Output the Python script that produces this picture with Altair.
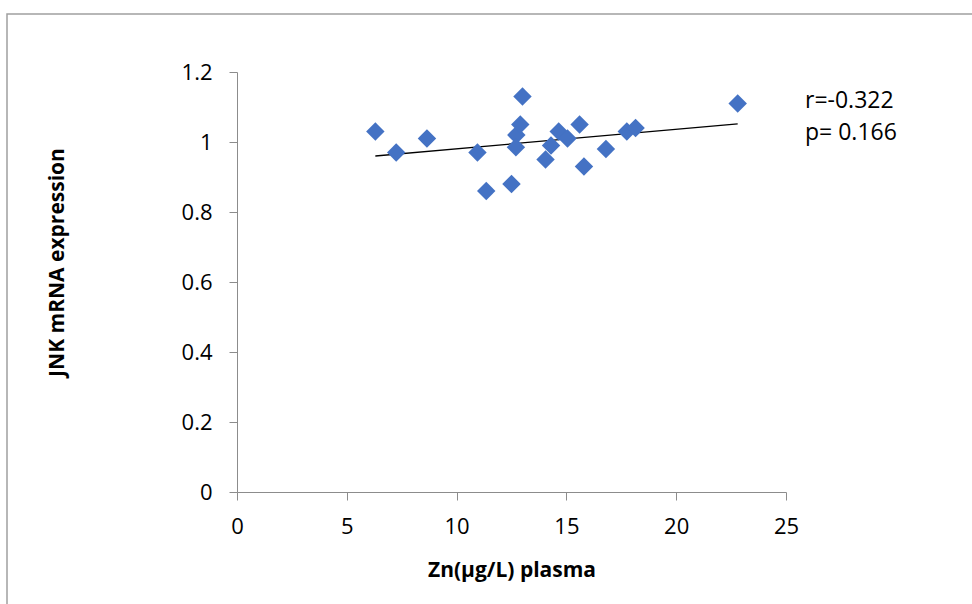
import altair as alt
import pandas as pd

zn = [6.3, 7.25, 8.65, 10.95, 11.35, 12.5, 12.72, 12.7, 12.9, 13.0,
      14.05, 14.3, 14.65, 15.05, 15.6, 15.8, 16.8, 17.75, 18.15, 22.8]
jnk = [1.03, 0.97, 1.01, 0.97, 0.86, 0.88, 1.02, 0.985, 1.05, 1.13,
       0.95, 0.99, 1.03, 1.01, 1.05, 0.93, 0.98, 1.03, 1.04, 1.11]

trend_x = [6.3, 22.8]
trend_y = [0.96, 1.052]

stats_text = ["r=-0.322", "p= 0.166"]

df = pd.DataFrame({"x": zn, "y": jnk})
tdf = pd.DataFrame({"x": trend_x, "y": trend_y})
sdf = pd.DataFrame({"t": stats_text, "i": [0, 1]})

FONT = "Open Sans"
AXIS_COLOR = "#8c8c8c"

xscale = alt.Scale(domain=[0, 25], nice=False, zero=True)
yscale = alt.Scale(domain=[0, 1.2], nice=False, zero=True)

xaxis = alt.Axis(values=[0, 5, 10, 15, 20, 25], title="Zn(µg/L) plasma",
                 format="d", grid=False, domainColor=AXIS_COLOR,
                 tickColor=AXIS_COLOR, tickSize=8, labelFontSize=22,
                 labelFont=FONT, labelColor="#000", labelPadding=16,
                 labelFlush=False, labelOverlap=False,
                 titleFont=FONT, titleFontSize=21, titleFontWeight="bold",
                 titleColor="#000", titleBaseline="middle", titleY=78)
yaxis = alt.Axis(values=[0, 0.2, 0.4, 0.6, 0.8, 1.0, 1.2],
                 labelExpr="datum.value == 0 ? '0' : datum.value == 1 ? '1' : format(datum.value, '.1f')",
                 title="JNK mRNA expression", grid=False,
                 domainColor=AXIS_COLOR, tickColor=AXIS_COLOR,
                 tickSize=8, labelFontSize=22, labelFont=FONT,
                 labelColor="#000", labelPadding=17,
                 labelFlush=False, labelOverlap=False,
                 titleFont=FONT, titleFontSize=21, titleFontWeight="bold",
                 titleColor="#000", titleBaseline="middle", titleAngle=270,
                 titleX=-180, titleY=190)

border = alt.Chart(pd.DataFrame({"a": [0]})).mark_rect(
    fill=None, stroke="#a0a0a0", strokeWidth=1.5
).encode(
    x=alt.value(-230), x2=alt.value(745), y=alt.value(-58), y2=alt.value(545)
)

points = alt.Chart(df).mark_point(
    shape="diamond", filled=True, size=340, color="#4472C4", opacity=1
).encode(
    x=alt.X("x:Q", scale=xscale, axis=xaxis),
    y=alt.Y("y:Q", scale=yscale, axis=yaxis),
)

trend = alt.Chart(tdf).mark_line(color="#000", strokeWidth=1.3).encode(
    x=alt.X("x:Q", scale=xscale, axis=xaxis),
    y=alt.Y("y:Q", scale=yscale, axis=yaxis),
)

stat_r = alt.Chart(sdf).transform_filter(alt.datum.i == 0).mark_text(
    align="left", baseline="alphabetic", fontSize=23, font=FONT, color="#000"
).encode(text="t:N", x=alt.value(568), y=alt.value(36))

stat_p = alt.Chart(sdf).transform_filter(alt.datum.i == 1).mark_text(
    align="left", baseline="alphabetic", fontSize=23, font=FONT, color="#000"
).encode(text="t:N", x=alt.value(568), y=alt.value(68))

chart = alt.layer(border, trend, points, stat_r, stat_p).properties(
    width=549, height=420,
    autosize=alt.AutoSizeParams(type="none"),
    padding={"left": 237, "top": 72, "right": 186, "bottom": 112},
    background="white",
).configure_view(stroke=None)

chart.save("out.html", embed_options={"renderer": "svg", "actions": False})
